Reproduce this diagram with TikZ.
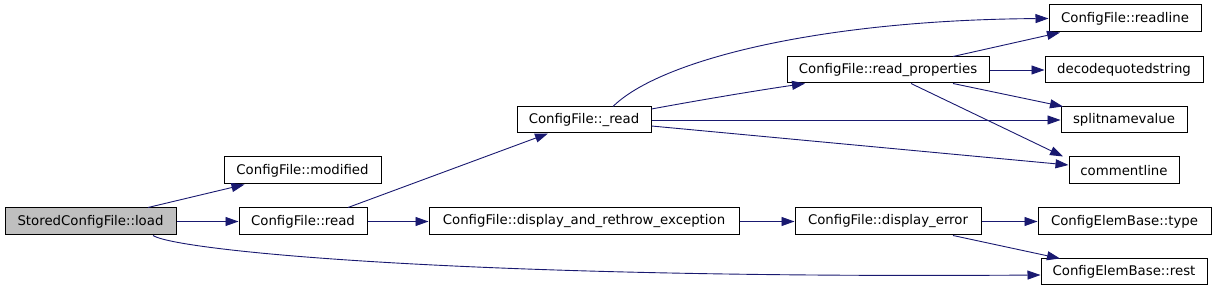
\documentclass[tikz,border=0pt]{standalone}
\usepackage{fontspec}
\setmainfont{DejaVu Sans}
\usetikzlibrary{arrows.meta,calc}
\definecolor{edgec}{HTML}{191970}
\definecolor{fillgray}{HTML}{BFBFBF}
\tikzset{
  fn/.style={draw=black, line width=1pt, fill=white, inner sep=0pt, minimum height=27pt, font=\fontsize{13.3}{16}\selectfont, text=black},
  root/.style={fn, fill=fillgray},
  call/.style={draw=edgec, line width=0.9pt, -{Triangle[length=13pt,width=9pt]}},
}
\begin{document}
\begin{tikzpicture}[x=1pt,y=-1pt]
\useasboundingbox (0,0) rectangle (1216,291);
\node[root, minimum width=171pt] (load) at (90.5,221.5) {StoredConfigFile::load};
\node[fn, minimum width=157pt] (modified) at (302.5,170.5) {ConfigFile::modified};
\node[fn, minimum width=128pt] (read) at (303,221.5) {ConfigFile::read};
\node[fn, minimum width=134pt, minimum height=26pt] (uread) at (584,120) {ConfigFile::\_read};
\node[fn, minimum width=310pt] (dret) at (584,221.5) {ConfigFile::display\_and\_rethrow\_exception};
\node[fn, minimum width=152pt] (readline) at (1125,18.5) {ConfigFile::readline};
\node[fn, minimum width=202pt, minimum height=26pt] (rprop) at (888,70) {ConfigFile::read\_properties};
\node[fn, minimum width=158pt, minimum height=26pt] (decode) at (1124,70) {decodequotedstring};
\node[fn, minimum width=126pt, minimum height=26pt] (split) at (1124,120) {splitnamevalue};
\node[fn, minimum width=110pt] (comment) at (1124,170.5) {commentline};
\node[fn, minimum width=186pt] (derr) at (888,221.5) {ConfigFile::display\_error};
\node[fn, minimum width=173pt] (type) at (1124.5,221.5) {ConfigElemBase::type};
\node[fn, minimum width=166pt, minimum height=26pt] (rest) at (1124,272) {ConfigElemBase::rest};

\draw[call] ($(load.north)+(57.5,0)$) -- ($(modified.south)+(-58,0)$);
\draw[call] (load.east) -- (read.west);
\draw[call] ($(load.south)+(62.5,0)$) .. controls (175,250) and (450,279) .. ($(rest.west)+(0,3)$);
\draw[call] ($(read.north)+(45,0)$) -- ($(uread.south)+(-36,0)$);
\draw[call] (read.east) -- (dret.west);
\draw[call] ($(uread.north)+(29,0)$) .. controls (660,60) and (820,20) .. (readline.west);
\draw[call] ($(uread.east)+(0,-11)$) .. controls (700,100) and (760,90) .. ($(rprop.south)+(-83,0)$);
\draw[call] (uread.east) -- (split.west);
\draw[call] ($(uread.east)+(0,6)$) -- ($(comment.west)+(0,-5.5)$);
\draw[call] ($(rprop.north)+(65,0)$) -- ($(readline.south)+(-65,0)$);
\draw[call] (rprop.east) -- (decode.west);
\draw[call] ($(rprop.south)+(65,0)$) -- ($(split.north)+(-61,0)$);
\draw[call] ($(rprop.south)+(23,0)$) -- ($(comment.north)+(-61,0)$);
\draw[call] (dret.east) -- (derr.west);
\draw[call] (derr.east) -- (type.west);
\draw[call] ($(derr.south)+(65,0)$) -- ($(rest.north)+(-64,0)$);
\end{tikzpicture}
\end{document}
